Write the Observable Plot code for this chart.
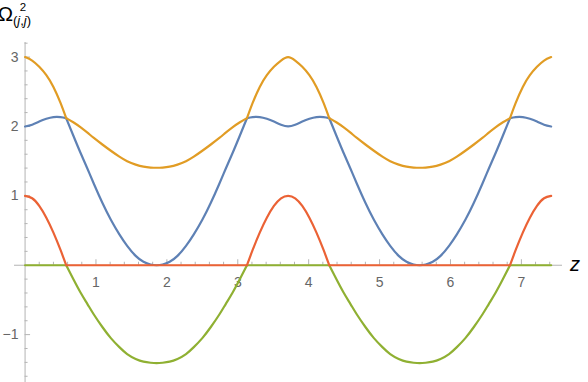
<!DOCTYPE html>
<html>
<head>
<meta charset="utf-8">
<script src="https://cdn.jsdelivr.net/npm/d3@7"></script>
<script src="https://cdn.jsdelivr.net/npm/@observablehq/plot@0.6"></script>
<style>
  html, body { margin: 0; padding: 0; background: #fff; }
  svg { display: block; }
</style>
</head>
<body>
<script>
// ---- data ----
const zs = [
  0, 0.1, 0.2, 0.3, 0.4, 0.5, 0.58, 0.68, 0.78, 0.88, 0.97, 1.09, 1.21, 1.33, 1.44, 1.56, 1.67, 1.77, 1.855,
  1.94, 2.04, 2.15, 2.27, 2.38, 2.50, 2.62, 2.74, 2.83, 2.93, 3.03, 3.13, 3.21, 3.31, 3.41, 3.51, 3.61, 3.71,
  3.81, 3.91, 4.01, 4.11, 4.21, 4.29, 4.39, 4.49, 4.59, 4.68, 4.80, 4.92, 5.04, 5.15, 5.27, 5.38, 5.48, 5.565,
  5.65, 5.75, 5.86, 5.98, 6.09, 6.21, 6.33, 6.45, 6.54, 6.64, 6.74, 6.84, 6.92, 7.02, 7.12, 7.22, 7.32, 7.42
];
const orange = [
  3.00, 2.95, 2.86, 2.74, 2.57, 2.34, 2.12, 2.06, 1.99, 1.91, 1.835, 1.74, 1.65, 1.565, 1.50, 1.45, 1.42, 1.408, 1.405,
  1.408, 1.42, 1.45, 1.50, 1.565, 1.65, 1.74, 1.835, 1.91, 1.99, 2.06, 2.12, 2.34, 2.57, 2.74, 2.86, 2.95, 3.00,
  2.95, 2.86, 2.74, 2.57, 2.34, 2.12, 2.06, 1.99, 1.91, 1.835, 1.74, 1.65, 1.565, 1.50, 1.45, 1.42, 1.408, 1.405,
  1.408, 1.42, 1.45, 1.50, 1.565, 1.65, 1.74, 1.835, 1.91, 1.99, 2.06, 2.12, 2.34, 2.57, 2.74, 2.86, 2.95, 3.00
];
const blue = [
  2.00, 2.025, 2.07, 2.11, 2.135, 2.135, 2.12, 1.87, 1.625, 1.39, 1.175, 0.90, 0.655, 0.445, 0.28, 0.135, 0.05, 0.01, 0.00,
  0.01, 0.05, 0.135, 0.28, 0.445, 0.655, 0.90, 1.175, 1.39, 1.625, 1.87, 2.12, 2.135, 2.135, 2.11, 2.07, 2.025, 2.00,
  2.025, 2.07, 2.11, 2.135, 2.135, 2.12, 1.87, 1.625, 1.39, 1.175, 0.90, 0.655, 0.445, 0.28, 0.135, 0.05, 0.01, 0.00,
  0.01, 0.05, 0.135, 0.28, 0.445, 0.655, 0.90, 1.175, 1.39, 1.625, 1.87, 2.12, 2.135, 2.135, 2.11, 2.07, 2.025, 2.00
];
const red = [
  1.00, 0.965, 0.855, 0.685, 0.47, 0.22, 0.00, 0, 0, 0, 0, 0, 0, 0, 0, 0, 0, 0, 0,
  0, 0, 0, 0, 0, 0, 0, 0, 0, 0, 0, 0.00, 0.22, 0.47, 0.685, 0.855, 0.965, 1.00,
  0.965, 0.855, 0.685, 0.47, 0.22, 0.00, 0, 0, 0, 0, 0, 0, 0, 0, 0, 0, 0, 0,
  0, 0, 0, 0, 0, 0, 0, 0, 0, 0, 0, 0.00, 0.22, 0.47, 0.685, 0.855, 0.965, 1.00
];
const green = [
  0, 0, 0, 0, 0, 0, 0.00, -0.20, -0.39, -0.56, -0.71, -0.89, -1.05, -1.18, -1.28, -1.35, -1.39, -1.405, -1.41,
  -1.405, -1.39, -1.35, -1.28, -1.18, -1.05, -0.89, -0.71, -0.56, -0.39, -0.20, 0.00, 0, 0, 0, 0, 0, 0,
  0, 0, 0, 0, 0, 0.00, -0.20, -0.39, -0.56, -0.71, -0.89, -1.05, -1.18, -1.28, -1.35, -1.39, -1.405, -1.41,
  -1.405, -1.39, -1.35, -1.28, -1.18, -1.05, -0.89, -0.71, -0.56, -0.39, -0.20, 0.00, 0, 0, 0, 0, 0, 0
];
const kinks = [0.58, 3.13, 4.29, 6.84];
const xTickLabels = [1, 2, 3, 4, 5, 6, 7];
const yTickLabels = [-1, 1, 2, 3];

// ---- layout ----
const W = 588, H = 382;
const mL = 14, mR = 26, mT = 42, mB = 0;
const xDom = [-0.149, 7.58], yDom = [-1.69, 3.21];
const pxX = (W - mL - mR) / (xDom[1] - xDom[0]);
const pxY = (H - mT - mB) / (yDom[1] - yDom[0]);

function segs(vals) {
  const out = [];
  zs.forEach((z, i) => {
    const s = kinks.filter(k => k < z).length;
    out.push({z, v: vals[i], s});
    if (kinks.includes(z)) out.push({z, v: vals[i], s: s + 1});
  });
  return out;
}

const xMinor = d3.range(1, 38).map(i => +(i * 0.2).toFixed(1)).filter(d => !Number.isInteger(d));
const yMinor = d3.range(-8, 17).map(i => +(i * 0.2).toFixed(1)).filter(d => !Number.isInteger(d));
const yMajor = [-1, 1, 2, 3];

const axisCol = "#b4b4b4";
const lineW = 2.2;
const font = "'Liberation Sans', Arial, sans-serif";

const chart = Plot.plot({
  width: W, height: H,
  marginLeft: mL, marginRight: mR, marginTop: mT, marginBottom: mB,
  x: {domain: xDom, axis: null},
  y: {domain: yDom, axis: null},
  style: {background: "#fff", fontFamily: font, overflow: "visible"},
  marks: [
    Plot.ruleY([0], {stroke: axisCol, strokeWidth: 1}),
    Plot.ruleX([0], {stroke: axisCol, strokeWidth: 1}),
    Plot.ruleX(xTickLabels, {x: d => d, y1: 0, y2: 5.5 / pxY, stroke: axisCol}),
    Plot.ruleX(xMinor, {x: d => d, y1: 0, y2: 3 / pxY, stroke: axisCol}),
    Plot.ruleY(yMajor, {y: d => d, x1: 0, x2: 5.5 / pxX, stroke: axisCol}),
    Plot.ruleY(yMinor, {y: d => d, x1: 0, x2: 3 / pxX, stroke: axisCol}),
    Plot.text(xTickLabels, {x: d => d, y: 0, dy: 17.5, text: d => String(d), fill: "#666", fontSize: 14}),
    Plot.text(yTickLabels, {x: 0, y: d => d, dx: -6.5, text: d => (d < 0 ? "\u2212" + Math.abs(d) : String(d)), textAnchor: "end", fill: "#666", fontSize: 14}),
    Plot.line(segs(blue), {x: "z", y: "v", z: "s", stroke: "#5E81B5", strokeWidth: lineW, curve: "natural"}),
    Plot.line(segs(orange), {x: "z", y: "v", z: "s", stroke: "#E19C24", strokeWidth: lineW, curve: "natural"}),
    Plot.line(segs(green), {x: "z", y: "v", z: "s", stroke: "#8FB032", strokeWidth: lineW, curve: "natural"}),
    Plot.line(segs(red), {x: "z", y: "v", z: "s", stroke: "#EB6235", strokeWidth: lineW, curve: "natural"})
  ]
});

const svg = d3.select(chart);
const lab = svg.append("text")
  .attr("x", 5.5).attr("y", 21)
  .attr("fill", "#000")
  .style("font-family", font);
lab.append("tspan").attr("font-size", 20.5).text("\u03A9");
lab.append("tspan").attr("font-size", 11.5).attr("x", 23).attr("y", 10.5).text("2");
lab.append("tspan").attr("font-size", 13).attr("x", 22).attr("y", 25).text("(");
lab.append("tspan").attr("font-size", 13).attr("font-style", "italic").text("j");
lab.append("tspan").attr("font-size", 13).text(",");
lab.append("tspan").attr("font-size", 13).attr("font-style", "italic").text("j");
lab.append("tspan").attr("font-size", 13).text(")");

svg.append("text")
  .attr("x", 575).attr("y", 271)
  .attr("fill", "#000")
  .attr("font-size", 20)
  .attr("font-style", "italic")
  .style("font-family", font)
  .text("z");

document.body.appendChild(chart);
</script>
</body>
</html>
